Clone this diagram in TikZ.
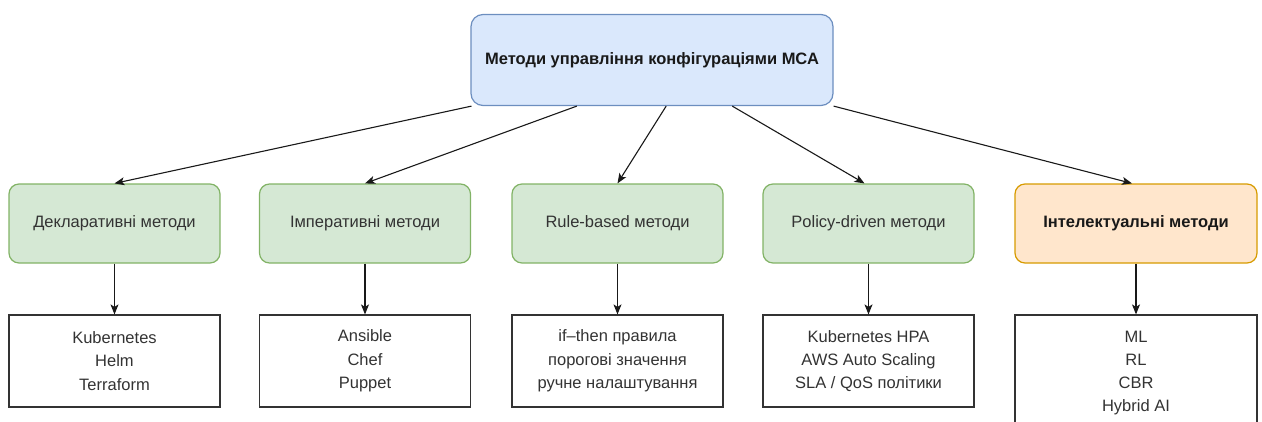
\documentclass[tikz,border=0pt]{standalone}
\usepackage{fontspec}
\setmainfont{Liberation Sans}
\usetikzlibrary{arrows.meta,calc}
\definecolor{blueFill}{HTML}{DAE8FC}
\definecolor{blueLine}{HTML}{6C8EBF}
\definecolor{greenFill}{HTML}{D5E8D4}
\definecolor{greenLine}{HTML}{82B366}
\definecolor{orangeFill}{HTML}{FFE6CC}
\definecolor{orangeLine}{HTML}{D79B00}
\definecolor{txt}{HTML}{333333}
\begin{document}
\begin{tikzpicture}[x=1pt,y=-1pt,
  every node/.style={font=\fontsize{16.5}{23.3}\selectfont, text=txt, align=center, inner sep=0pt},
  rootbox/.style={draw=blueLine, fill=blueFill, line width=1.2pt, rounded corners=12pt,
    minimum width=362pt, minimum height=91pt, font=\fontsize{16.5}{23.3}\selectfont\bfseries, text=black!90},
  methodbox/.style={draw=greenLine, fill=greenFill, line width=1.2pt, rounded corners=10pt,
    minimum width=211pt, minimum height=79pt},
  smartbox/.style={draw=orangeLine, fill=orangeFill, line width=1.2pt, rounded corners=10pt,
    minimum width=242pt, minimum height=79pt, font=\fontsize{16.5}{23.3}\selectfont\bfseries, text=black!90},
  toolbox/.style={draw=black!80, fill=white, line width=1.2pt,
    minimum width=211pt, minimum height=92pt},
  arr/.style={draw=black!90, line width=1.1pt, -{Stealth[length=10pt,width=8pt,inset=2.5pt]}}
]
\useasboundingbox (0,0) rectangle (1262,421);
\clip (0,0) rectangle (1262,421);

% root
\node[rootbox] (root) at (652,60) {Методи управління конфігураціями МСА};

% method groups
\node[methodbox] (g1) at (114.5,223.5) {Декларативні методи};
\node[methodbox] (g2) at (365,223.5) {Імперативні методи};
\node[methodbox] (g3) at (617.5,223.5) {Rule-based методи};
\node[methodbox] (g4) at (868.5,223.5) {Policy-driven методи};
\node[smartbox] (g5) at (1136,223.5) {Інтелектуальні методи};

% tool lists
\node[toolbox] (t1) at (114.5,361) {Kubernetes\\Helm\\Terraform};
\node[toolbox] (t2) at (365,361) {Ansible\\Chef\\Puppet};
\node[toolbox] (t3) at (617.5,361) {if–then правила\\порогові значення\\ручне налаштування};
\node[toolbox] (t4) at (868.5,361) {Kubernetes HPA\\AWS Auto Scaling\\SLA / QoS політики};
\node[toolbox, minimum width=242pt, minimum height=116pt] (t5) at (1136,373) {ML\\RL\\CBR\\Hybrid AI};

% connectors from the root
\draw[arr] ($(root.south west)!0.003!(root.south east)$) -- (g1.north);
\draw[arr] ($(root.south west)!0.293!(root.south east)$) -- (g2.north);
\draw[arr] ($(root.south west)!0.539!(root.south east)$) -- (g3.north);
\draw[arr] ($(root.south west)!0.721!(root.south east)$) -- ($(g4.north)+(-4,0)$);
\draw[arr] (root.south east) -- ($(g5.north)+(-4,0)$);

% connectors to the tool lists
\foreach \i in {1,...,5}{
  \draw[arr] (g\i.south) -- (t\i.north);
}
\end{tikzpicture}
\end{document}
